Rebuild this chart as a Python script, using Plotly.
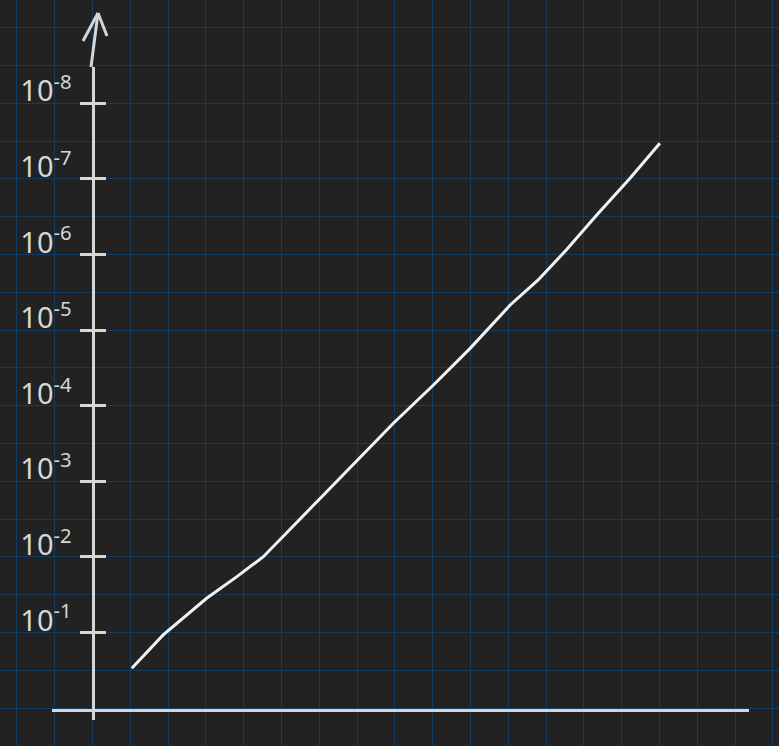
import plotly.graph_objects as go

# ---------------- data ----------------
x_vals = [1.04, 1.87, 3.02, 3.82, 4.52, 6.02, 6.99, 7.96, 9.02, 9.99, 11.05, 11.79, 12.55, 13.34, 14.22, 15.01]
y_vals = [0.298, 0.108, 0.0354, 0.0183, 9.97e-3, 1.68e-3, 5.25e-4, 1.71e-4, 5.34e-5, 1.75e-5,
          4.67e-6, 2.18e-6, 8.57e-7, 3.01e-7, 9.84e-8, 3.39e-8]

tick_values = [1e-1, 1e-2, 1e-3, 1e-4, 1e-5, 1e-6, 1e-7, 1e-8]
tick_labels = ["10<sup>-1</sup>", "10<sup>-2</sup>", "10<sup>-3</sup>", "10<sup>-4</sup>",
               "10<sup>-5</sup>", "10<sup>-6</sup>", "10<sup>-7</sup>", "10<sup>-8</sup>"]

# ---------------- geometry / style ----------------
W, H = 779, 746
X0_PX = 92.5      # pixel column of x = 0 (the vertical axis)
CELL = 37.8       # grid cell size in px (1 x-unit, half a decade)
Y1_PX = 708.0     # pixel row of y = 10^0 (the horizontal axis)
DECADE = 2 * CELL

BG = "#222222"
GRID = "#0f3d63"
INK = "#d6d6d6"
LINE = "#f2f2f2"
CLEAR = "rgba(0,0,0,0)"


def x_at(px):
    return (px - X0_PX) / CELL


def logy_at(py):
    return (py - Y1_PX) / DECADE


grid_y = [10 ** (k / 2) for k in range(-20, 3)]

fig = go.Figure()

# empty traces so every axis set gets drawn
fig.add_trace(go.Scatter(x=[], y=[], xaxis="x", yaxis="y", showlegend=False, hoverinfo="skip"))
fig.add_trace(go.Scatter(x=[], y=[], xaxis="x2", yaxis="y3", showlegend=False, hoverinfo="skip"))

# the data line
fig.add_trace(go.Scatter(
    x=x_vals, y=y_vals, xaxis="x2", yaxis="y2",
    mode="lines", line=dict(color=LINE, width=3),
    showlegend=False,
))

AX_TOP, AX_BOT = 67, 720         # vertical axis extent (px)
XA_L, XA_R, XA_Y = 52, 749, 710  # horizontal axis extent (px)

fig.update_layout(
    width=W, height=H,
    margin=dict(l=0, r=0, t=0, b=0),
    paper_bgcolor=BG, plot_bgcolor=CLEAR,
    showlegend=False,
    # grid axes (full canvas)
    xaxis=dict(domain=[0, 1], range=[x_at(0), x_at(W)], tick0=0, dtick=1,
               showgrid=True, gridcolor=GRID, gridwidth=1,
               showticklabels=False, ticks="", zeroline=False, showline=False),
    yaxis=dict(domain=[0, 1], type="log", range=[logy_at(H), logy_at(0)],
               tickmode="array", tickvals=grid_y,
               showgrid=True, gridcolor=GRID, gridwidth=1,
               showticklabels=False, ticks="", zeroline=False, showline=False),
    # drawn axes
    xaxis2=dict(domain=[XA_L / W, XA_R / W], range=[x_at(XA_L), x_at(XA_R)],
                anchor="free", position=1 - XA_Y / H,
                showline=True, linecolor=INK, linewidth=3,
                showgrid=False, zeroline=False, showticklabels=False, ticks=""),
    yaxis2=dict(domain=[1 - AX_BOT / H, 1 - AX_TOP / H], type="log",
                range=[logy_at(AX_BOT), logy_at(AX_TOP)],
                anchor="free", position=X0_PX / W, side="left",
                showline=True, linecolor=INK, linewidth=3,
                showgrid=False, zeroline=False,
                tickmode="array", tickvals=tick_values, ticktext=tick_labels,
                ticks="outside", ticklen=12, tickwidth=3, tickcolor=INK,
                tickfont=dict(family="Noto Sans", size=29, color=INK),
                ticklabelstandoff=2, ticklabelshift=12),
    yaxis3=dict(overlaying="y2", type="log",
                range=[logy_at(AX_BOT), logy_at(AX_TOP)],
                anchor="free", position=X0_PX / W, side="left",
                showline=False, showgrid=False, zeroline=False,
                tickmode="array", tickvals=tick_values, showticklabels=False,
                ticks="inside", ticklen=12, tickwidth=3, tickcolor=INK),
)

# arrow at the top of the vertical axis: shaft + two arms (plain strokes)
TIP = (98, 13)
for tail in [(91, AX_TOP), (83, 41), (107, 36)]:
    fig.add_annotation(
        xref="paper", yref="paper",
        x=TIP[0] / W, y=1 - TIP[1] / H,
        ax=tail[0] - TIP[0], ay=tail[1] - TIP[1],
        showarrow=True, arrowhead=0, arrowwidth=3, arrowcolor=INK,
        text="", font=dict(size=1), borderpad=0, borderwidth=0,
        standoff=0, startstandoff=0,
    )

fig.write_html(
    "out.html",
    config={"displayModeBar": False},
    post_script="document.body.style.margin='0';document.body.style.background='#222222';",
)
